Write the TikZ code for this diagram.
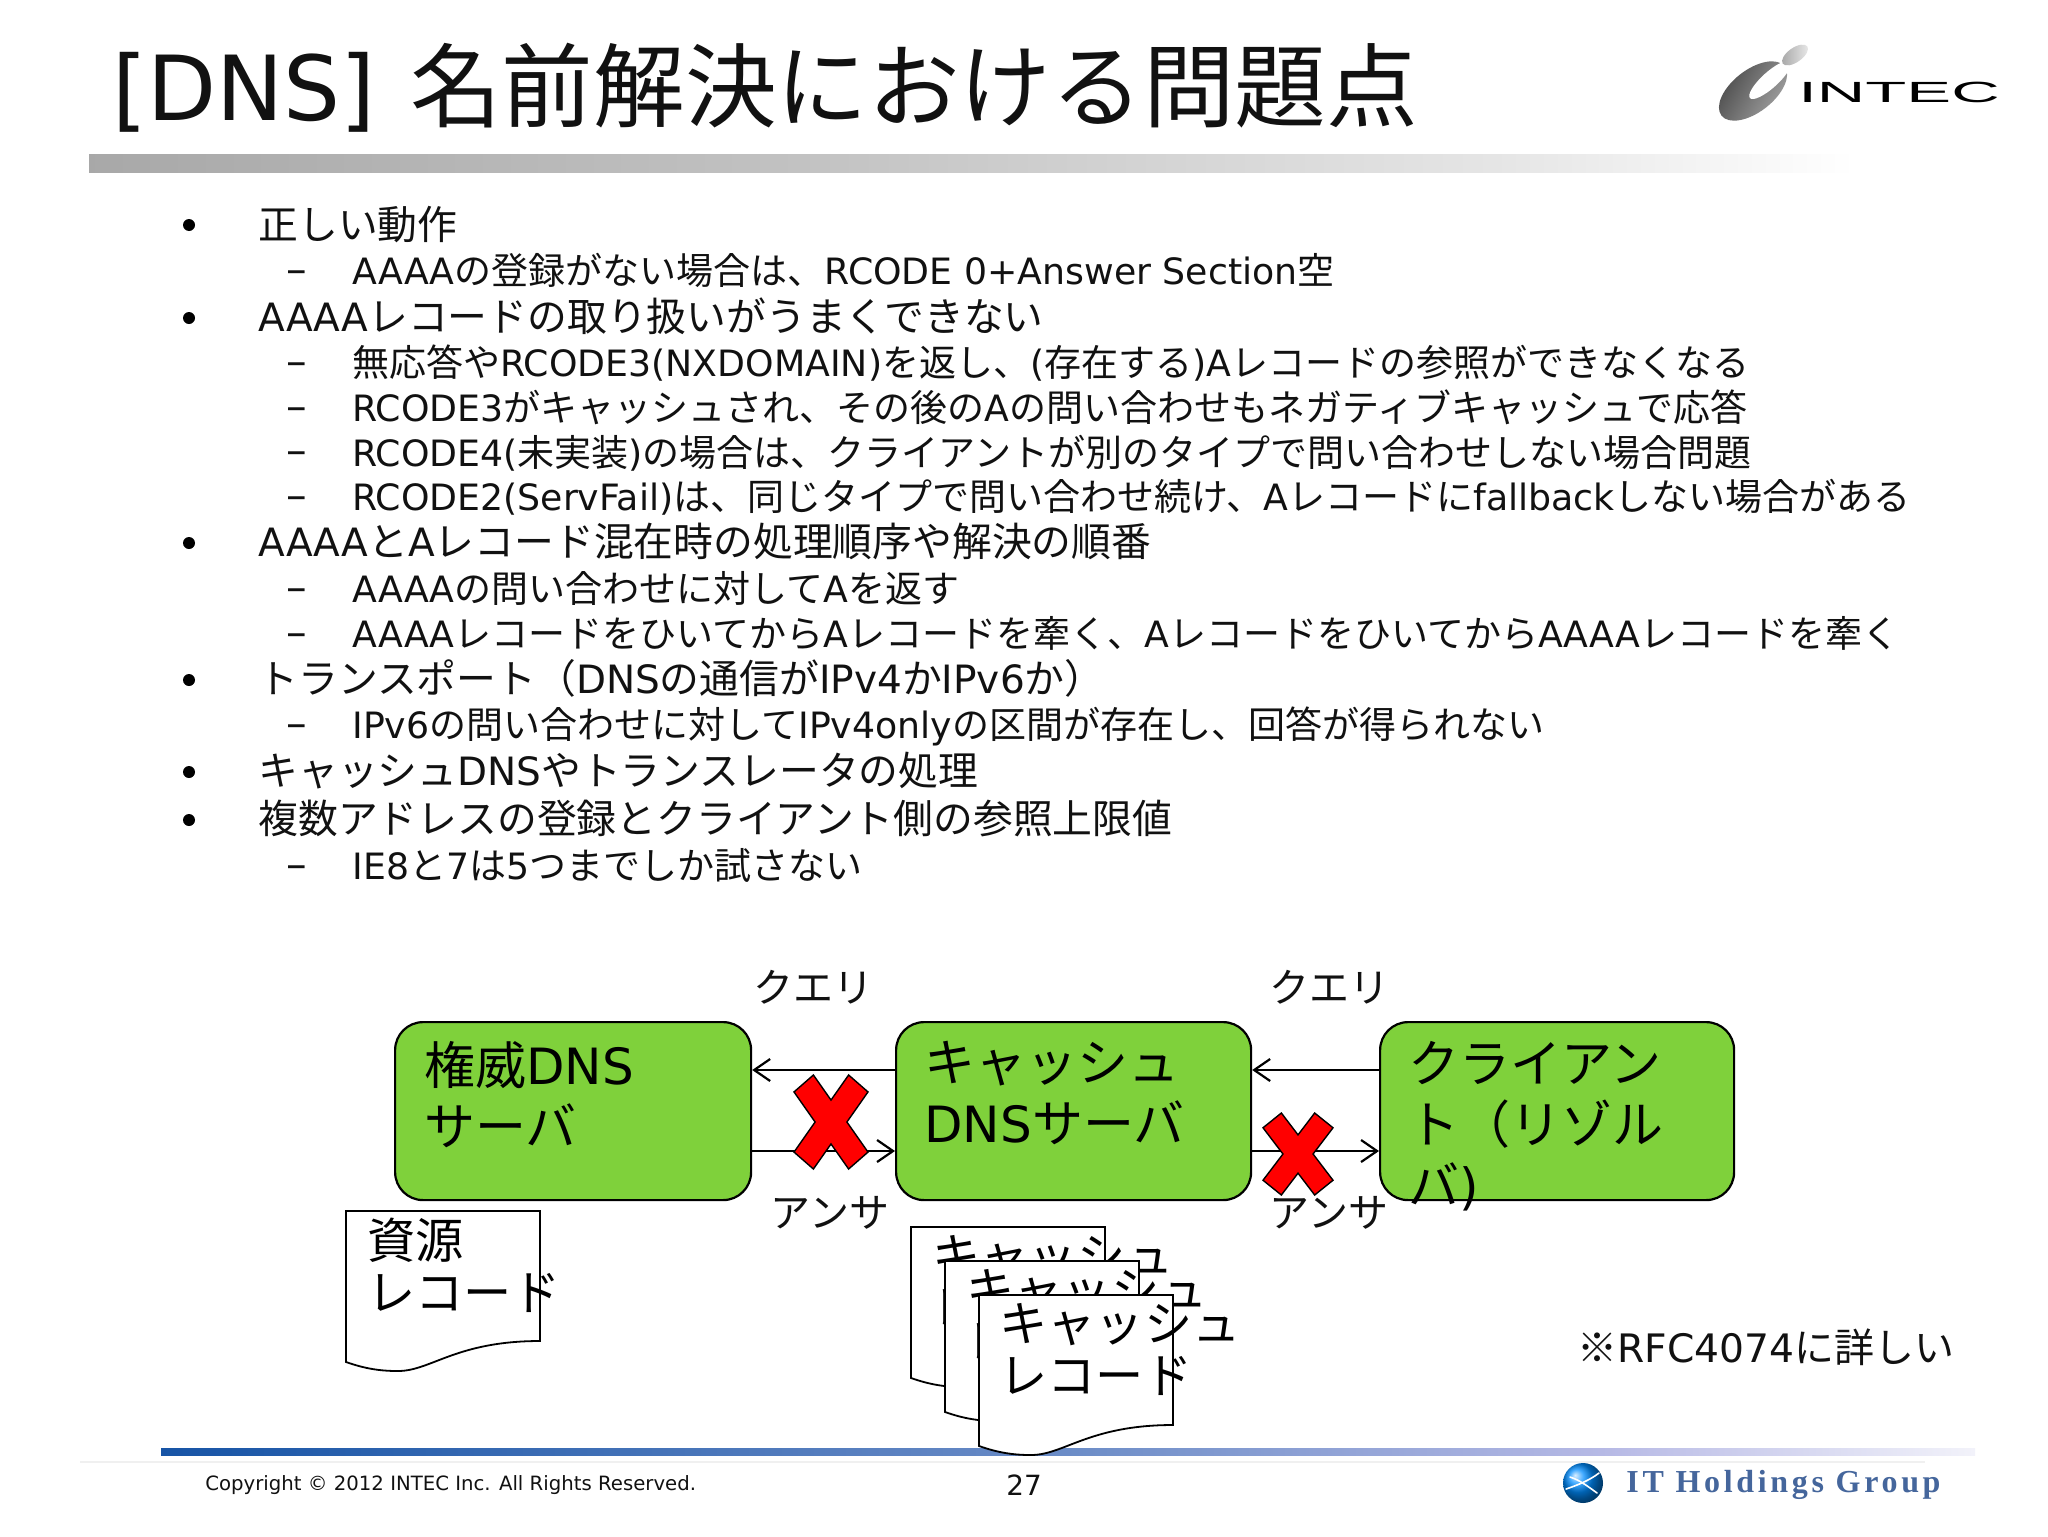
\documentclass[tikz,border=0pt]{standalone}
\usepackage{fontspec}
\usetikzlibrary{arrows.meta,calc}
\setmainfont{DejaVu Sans}
\newfontfamily\cjkf{Noto Sans CJK JP}
\newfontfamily\latf[Scale=0.98]{DejaVu Sans}
\newfontfamily\groupf[LetterSpace=11.5]{Liberation Serif}
\newfontfamily\logof{Liberation Sans}
\newXeTeXintercharclass\cjkclass
\newcount\cc
\def\setrange#1#2{\cc=#1 \loop\XeTeXcharclass\cc=\cjkclass\relax\ifnum\cc<#2 \advance\cc by 1 \repeat}
\setrange{"3000}{"30FF}
\setrange{"4E00}{"9FFF}
\setrange{"FF00}{"FFEF}
\XeTeXcharclass"203B=\cjkclass
\XeTeXinterchartoks 0 \cjkclass={\cjkf}
\XeTeXinterchartoks \cjkclass 0={\latf}
\XeTeXinterchartoks 4095 \cjkclass={\cjkf}
\XeTeXinterchartoks 4095 0={\latf}
\XeTeXinterchartokenstate=1
\newcommand{\plainrun}{\XeTeXinterchartokenstate=0\relax}
\definecolor{boxgreen}{HTML}{7FD13B}
\definecolor{crossred}{HTML}{FF0000}
\definecolor{groupblue}{HTML}{45669C}
\definecolor{inkc}{HTML}{111111}
\pgfdeclarehorizontalshading{footbar}{100bp}{rgb(0bp)=(0.09,0.33,0.65); rgb(25bp)=(0.09,0.33,0.65); rgb(50bp)=(0.42,0.55,0.78); rgb(65bp)=(0.72,0.73,0.90); rgb(75bp)=(0.95,0.95,0.98); rgb(100bp)=(0.95,0.95,0.98)}
\pgfdeclarehorizontalshading{titlebar}{100bp}{rgb(0bp)=(0.66,0.66,0.66); rgb(25bp)=(0.66,0.66,0.66); rgb(45bp)=(0.76,0.76,0.76); rgb(65bp)=(0.90,0.90,0.90); rgb(75bp)=(1,1,1); rgb(100bp)=(1,1,1)}
\tikzset{
  ttl/.style={anchor=base west,inner sep=0,text=inkc,font=\fontsize{45.8}{50}\selectfont},
  lvlone/.style={anchor=base west,inner sep=0,text=inkc,font=\fontsize{19.9}{23}\selectfont},
  lvltwo/.style={anchor=base west,inner sep=0,text=inkc,font=\fontsize{18.5}{22}\selectfont},
  bul/.style={circle,fill=black,inner sep=0,minimum size=6pt},
  dsh/.style={inner sep=0,font=\fontsize{21}{24}\selectfont,text=inkc},
  srv/.style={draw=black,fill=boxgreen,rounded corners=14pt,line width=1.1pt,inner sep=0,anchor=north west},
  srvtext/.style={anchor=north west,inner sep=0,align=left,text=black,font=\fontsize{25.5}{30.5}\selectfont},
  doctext/.style={anchor=north west,inner sep=0,align=left,text=black,font=\fontsize{24.1}{26}\selectfont},
  lab/.style={inner sep=0,text=inkc,font=\fontsize{20}{23}\selectfont},
  conn/.style={draw=black,line width=1.1pt,-{Straight Barb[length=8pt,width=11pt]}},
  docshape/.style={draw=black,fill=white,line width=0.9pt},
  crossshape/.style={draw=black,fill=crossred,line width=0.7pt},
}
\newcommand{\redcross}[4]{%
  \path[crossshape,shift={(#1,#2)},x=#3*0.5pt,y=-#4*0.5pt]
    (-.476,-1) -- (0,-.467) -- (.476,-1) -- (1,-.64) -- (.43,0) -- (1,.64)
    -- (.476,1) -- (0,.467) -- (-.476,1) -- (-1,.64) -- (-.43,0) -- (-1,-.64) -- cycle;}
\newcommand{\docpage}[2]{%
  \path[docshape,shift={(#1,#2)}] (0,0) -- (194,0) -- (194,130)
    .. controls (110,130) and (85,160) .. (52,160)
    .. controls (35,160) and (20,158) .. (0,151) -- cycle;}
\begin{document}
\begin{tikzpicture}[x=0.5pt,y=-0.5pt]
\useasboundingbox[fill=white] (0,0) rectangle (2048,1536);

% header
\node[ttl] (title) at (112,120) {[DNS]\hspace{3pt} 名前解決における問題点};
\shade[shading=titlebar] (89,154) rectangle (1855,172);

% INTEC logo
\shade[left color=black!72,right color=black!35,shading angle=60] (1753,91) circle[x radius=20pt,y radius=10.5pt,rotate=38];
\fill[white] (1770,80) circle[x radius=13.5pt,y radius=4pt,rotate=42];
\shade[left color=black!35,right color=black!8] (1795,55) circle[x radius=7.5pt,y radius=3.6pt,rotate=35];
\node[inner sep=0,xscale=2.3,text=black,font=\plainrun\logof\fontsize{14.6}{16}\selectfont] (intec) at (1899,92.5) {INTEC};

% bullet list
\node[bul] (b1) at (189,225) {};
\node[lvlone] (t1) at (258,239) {正しい動作};
\node[dsh] (d1) at (297,277) {–};
\node[lvltwo] (t2) at (352,284) {AAAAの登録がない場合は、RCODE 0+Answer Section空};
\node[bul] (b2) at (189,318) {};
\node[lvlone] (t3) at (258,331) {AAAAレコードの取り扱いがうまくできない};
\node[dsh] (d2) at (297,369) {–};
\node[lvltwo] (t4) at (352,376) {無応答やRCODE3(NXDOMAIN)を返し、(存在する)Aレコードの参照ができなくなる};
\node[dsh] (d3) at (297,414) {–};
\node[lvltwo] (t5) at (352,421) {RCODE3がキャッシュされ、その後のAの問い合わせもネガティブキャッシュで応答};
\node[dsh] (d4) at (297,458) {–};
\node[lvltwo] (t6) at (352,466) {RCODE4(未実装)の場合は、クライアントが別のタイプで問い合わせしない場合問題};
\node[dsh] (d5) at (297,503) {–};
\node[lvltwo] (t7) at (352,510) {RCODE2(ServFail)は、同じタイプで問い合わせ続け、Aレコードにfallbackしない場合がある};
\node[bul] (b3) at (189,543) {};
\node[lvlone] (t8) at (258,556) {AAAAとAレコード混在時の処理順序や解決の順番};
\node[dsh] (d6) at (297,595) {–};
\node[lvltwo] (t9) at (352,602) {AAAAの問い合わせに対してAを返す};
\node[dsh] (d7) at (297,640) {–};
\node[lvltwo] (t10) at (352,647) {AAAAレコードをひいてからAレコードを牽く、AレコードをひいてからAAAAレコードを牽く};
\node[bul] (b4) at (189,680) {};
\node[lvlone] (t11) at (258,693) {トランスポート（DNSの通信がIPv4かIPv6か）};
\node[dsh] (d8) at (297,731) {–};
\node[lvltwo] (t12) at (352,738) {IPv6の問い合わせに対してIPv4onlyの区間が存在し、回答が得られない};
\node[bul] (b5) at (189,772) {};
\node[lvlone] (t13) at (258,785) {キャッシュDNSやトランスレータの処理};
\node[bul] (b6) at (189,820) {};
\node[lvlone] (t14) at (258,833) {複数アドレスの登録とクライアント側の参照上限値};
\node[dsh] (d9) at (297,872) {–};
\node[lvltwo] (t15) at (352,879) {IE8と7は5つまでしか試さない};

% footer bar sits under the documents
\shade[shading=footbar] (161,1448) rectangle (1975,1455);
\draw[black!6,line width=0.6pt] (80,1462) -- (1925,1462);

% server boxes
\node[srv,minimum width=178pt,minimum height=89pt] (auth) at (394,1021) {};
\node[srv,minimum width=177.5pt,minimum height=89pt] (cache) at (895,1021) {};
\node[srv,minimum width=177pt,minimum height=89pt] (client) at (1379,1021) {};
\node[srvtext] (authT) at (424,1041) {権威DNS\\サーバ};
\node[srvtext] (cacheT) at (924,1041) {キャッシュ\\DNSサーバ};
\node[srvtext] (clientT) at (1408,1041) {クライアン\\ト（リゾル\\バ)};

% connectors
\coordinate (qy) at (0,1070);
\coordinate (ay) at (0,1151);
\draw[conn] (cache.west |- qy) -- (auth.east |- qy);
\draw[conn] (auth.east |- ay) -- (cache.west |- ay);
\draw[conn] (client.west |- qy) -- (cache.east |- qy);
\draw[conn] (cache.east |- ay) -- (client.west |- ay);
\redcross{831}{1122}{37}{47}
\redcross{1298}{1154}{35}{41}
\node[lab] (q1) at (813,987) {クエリ};
\node[lab] (q2) at (1329,987) {クエリ};
\node[lab] (a1) at (830,1213) {アンサ};
\node[lab] (a2) at (1329,1213) {アンサ};

% record sheets
\docpage{346}{1211}
\node[doctext] (resT) at (367,1218) {資源\\レコード};
\docpage{911}{1227}
\node[doctext] (c1T) at (932,1235) {キャッシュ\\レコード};
\docpage{945}{1261}
\node[doctext] (c2T) at (966,1269) {キャッシュ\\レコード};
\docpage{979}{1295}
\node[doctext] (c3T) at (999,1303) {キャッシュ\\レコード};

\node[lab,anchor=west] (rfc) at (1577,1347) {※RFC4074に詳しい};

% footer
\node[anchor=west,inner sep=0,text=inkc,font=\fontsize{10.05}{12}\selectfont] (copy) at (205,1485) {Copyright © 2012 INTEC Inc. All Rights Reserved.};
\node[inner sep=0,text=inkc,font=\fontsize{14.2}{16}\selectfont] (page) at (1024,1485) {27};
\shade[ball color=cyan!55!blue] (1583,1483) circle[radius=10pt];
\draw[white,line width=0.8pt,line cap=round] (1566,1489) .. controls (1578,1485) and (1590,1480) .. (1599,1473);
\draw[white,line width=0.8pt,line cap=round] (1570,1477) .. controls (1580,1480) and (1590,1488) .. (1597,1493);
\node[anchor=west,inner sep=0,text=groupblue,font=\plainrun\groupf\bfseries\fontsize{16}{18}\selectfont] (group) at (1626,1485) {IT Holdings Group};
\end{tikzpicture}
\end{document}
